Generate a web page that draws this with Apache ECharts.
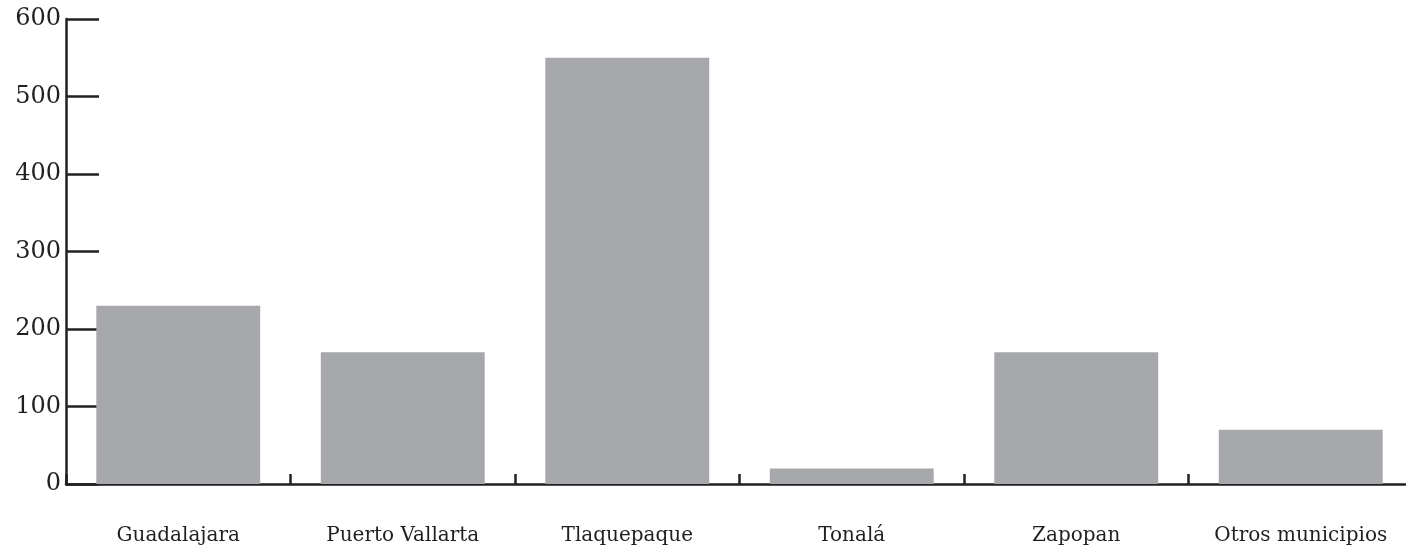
<!DOCTYPE html>
<html>
<head>
<meta charset="utf-8">
<script src="https://cdn.jsdelivr.net/npm/echarts@6/dist/echarts.min.js"></script>
<style>html,body{margin:0;padding:0;background:#fff;}#c{width:1406px;height:546px;}</style>
</head>
<body>
<div id="c"></div>
<script>
const categories = ["Guadalajara", "Puerto Vallarta", "Tlaquepaque", "Tonalá", "Zapopan", "Otros municipios"];
const values = [230, 170, 550, 20, 170, 70];
const yTicks = [0, 100, 200, 300, 400, 500, 600];

const chart = echarts.init(document.getElementById('c'), null, {renderer: 'canvas'});
const axisColor = '#231f20';
chart.setOption({
  animation: false,
  backgroundColor: '#ffffff',
  grid: {left: 66, width: 1347, top: 19, bottom: 62, containLabel: false, outerBoundsMode: 'none'},
  xAxis: {
    type: 'category',
    data: categories,
    axisLine: {show: true, lineStyle: {color: axisColor, width: 2.5}},
    axisTick: {show: true, inside: true, length: 10, lineStyle: {color: axisColor, width: 2.5}},
    axisLabel: {margin: 42, color: '#231f20', fontFamily: 'DejaVu Serif', fontSize: 20, interval: 0},
    splitLine: {show: false}
  },
  yAxis: {
    type: 'value',
    min: yTicks[0],
    max: yTicks[yTicks.length - 1],
    interval: yTicks[1] - yTicks[0],
    axisLine: {show: true, lineStyle: {color: axisColor, width: 2.5}},
    axisTick: {show: true, inside: true, length: 33, lineStyle: {color: axisColor, width: 2.5}},
    axisLabel: {margin: 5, color: '#231f20', fontFamily: 'DejaVu Serif', fontSize: 24, verticalAlign: 'middle', padding: [3, 0, 0, 0]},
    splitLine: {show: false}
  },
  series: [{
    type: 'bar',
    data: values,
    barCategoryGap: '27%',
    itemStyle: {color: '#a7a8ab'},
    z: 1
  }]
});
</script>
</body>
</html>
